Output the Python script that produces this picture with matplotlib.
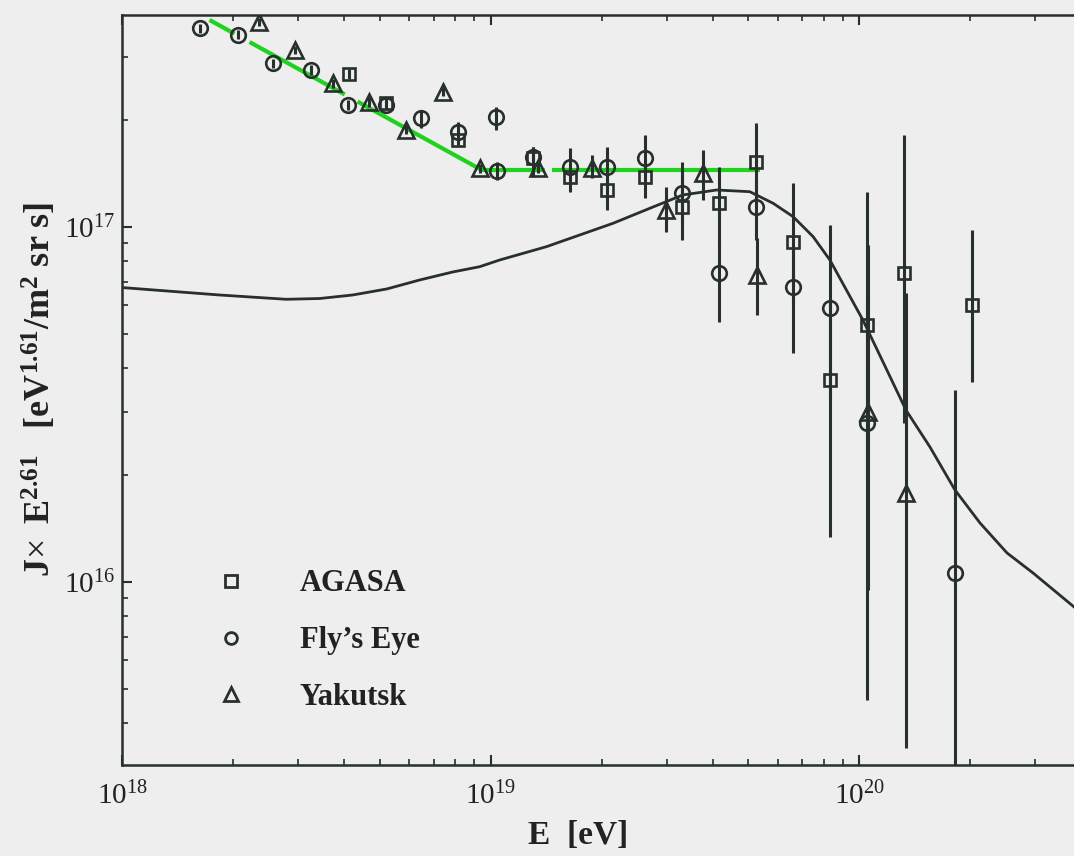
import numpy as np
import matplotlib
matplotlib.use("Agg")
import matplotlib.pyplot as plt
from matplotlib.lines import Line2D

# ---------------- data ----------------
agasa_E = [4.13e18, 5.19e18, 8.14e18, 1.302e19, 1.638e19, 2.065e19, 2.617e19, 3.298e19,
           4.156e19, 5.254e19, 6.61e19, 8.32e19, 1.046e20, 1.321e20, 2.024e20]
agasa_J = [2.69e17, 2.23e17, 1.755e17, 1.558e17, 1.383e17, 1.269e17, 1.383e17, 1.136e17,
           1.164e17, 1.524e17, 9.07e16, 3.70e16, 5.29e16, 7.39e16, 6.02e16]
agasa_lo = [2.60e17, 2.16e17, 1.70e17, 1.383e17, 1.255e17, 1.114e17, 1.205e17, 9.17e16,
            8.88e16, 1.189e17, 6.22e16, 1.336e16, 1.934e16, 2.80e16, 3.65e16]
agasa_hi = [2.78e17, 2.30e17, 1.81e17, 1.68e17, 1.492e17, 1.398e17, 1.541e17, 1.398e17,
            1.473e17, 1.96e17, 1.328e17, 6.22e16, 1.252e17, 1.813e17, 9.79e16]

fly_E = [1.623e18, 2.062e18, 2.566e18, 3.262e18, 4.10e18, 5.19e18, 6.485e18, 8.14e18,
         1.036e19, 1.038e19, 1.302e19, 1.638e19, 2.065e19, 2.617e19, 3.298e19, 4.156e19,
         5.254e19, 6.61e19, 8.32e19, 1.046e20, 1.816e20]
fly_J = [3.62e17, 3.47e17, 2.886e17, 2.763e17, 2.202e17, 2.20e17, 2.02e17, 1.852e17,
         2.04e17, 1.436e17, 1.571e17, 1.476e17, 1.476e17, 1.558e17, 1.242e17, 7.39e16,
         1.138e17, 6.78e16, 5.89e16, 2.794e16, 1.056e16]
fly_lo = [3.52e17, 3.37e17, 2.80e17, 2.68e17, 2.13e17, 2.13e17, 1.897e17, 1.78e17,
          1.873e17, 1.354e17, 1.50e17, 1.40e17, 1.311e17, 1.40e17, 1.011e17, 5.39e16,
          9.17e16, 4.41e16, 3.25e16, 4.64e15, 1.0e15]
fly_hi = [3.72e17, 3.57e17, 2.97e17, 2.85e17, 2.27e17, 2.27e17, 2.132e17, 1.976e17,
          2.178e17, 1.524e17, 1.68e17, 1.667e17, 1.68e17, 1.813e17, 1.524e17, 9.17e16,
          1.354e17, 8.60e16, 1.011e17, 6.22e16, 3.47e16]

yak_E = [2.346e18, 2.939e18, 3.733e18, 4.675e18, 5.905e18, 7.425e18, 9.335e18, 1.344e19,
         1.877e19, 2.998e19, 3.754e19, 5.27e19, 1.058e20, 1.337e20]
yak_J = [3.78e17, 3.146e17, 2.535e17, 2.25e17, 1.873e17, 2.40e17, 1.46e17, 1.46e17,
         1.46e17, 1.114e17, 1.414e17, 7.31e16, 3.012e16, 1.774e16]
yak_lo = [3.68e17, 3.06e17, 2.46e17, 2.18e17, 1.82e17, 2.33e17, 1.42e17, 1.42e17,
          1.372e17, 9.68e16, 1.189e17, 5.64e16, 9.48e15, 3.41e15]
yak_hi = [3.88e17, 3.23e17, 2.61e17, 2.32e17, 1.93e17, 2.47e17, 1.50e17, 1.50e17,
          1.592e17, 1.296e17, 1.645e17, 9.29e16, 8.88e16, 6.51e16]

# theoretical curve (log10 E, log10 J*E^2.61)
model_logE = [17.9986, 18.2646, 18.4456, 18.536, 18.6255, 18.7178, 18.8073, 18.8969,
              18.9701, 19.0244, 19.1512, 19.3319, 19.4315, 19.521, 19.6125, 19.7028,
              19.7661, 19.8203, 19.8746, 19.92, 20.0095, 20.0719, 20.1262, 20.1913,
              20.2591, 20.327, 20.4003, 20.4708, 20.5821]
model_logJ = [16.8287, 16.8076, 16.7955, 16.7977, 16.8076, 16.8245, 16.8499, 16.8724,
              16.8873, 16.9062, 16.9437, 17.0096, 17.0518, 17.0893, 17.1034, 17.0986,
              17.0659, 17.0282, 16.9718, 16.9062, 16.7372, 16.602, 16.4837, 16.3797,
              16.2586, 16.1656, 16.0811, 16.0248, 15.929]

# broken power-law fit (green): drawn pieces in log10 E
fit_logE_start = 18.2375
fit_logJ_start = 17.5823
fit_logE_break = 18.9756
fit_logJ_flat = 17.1597
fit_pieces = [(18.2375, 18.305), (18.346, 18.604), (18.639, 19.1465), (19.1655, 19.730)]

legend_labels = ["AGASA", "Fly\u2019s Eye", "Yakutsk"]

# ---------------- style ----------------
plt.rcParams['font.family'] = ['Liberation Serif', 'DejaVu Serif']
plt.rcParams['mathtext.fontset'] = 'custom'
plt.rcParams['mathtext.rm'] = 'Liberation Serif'
plt.rcParams['mathtext.it'] = 'Liberation Serif:italic'
plt.rcParams['mathtext.bf'] = 'Liberation Serif:bold'

ink = '#27302b'
bg = '#eeeeee'
txt = '#222222'

fig = plt.figure(figsize=(10.74, 8.56), dpi=100, facecolor=bg)
ax = fig.add_axes([122/1074, 91/856, 952/1074, 750/856], facecolor=bg)
ax.set_xscale('log')
ax.set_yscale('log')

# model curve
ax.plot(10**np.array(model_logE), 10**np.array(model_logJ), color=ink, lw=2.0, zorder=3)

# green fit
slope = (fit_logJ_flat - fit_logJ_start) / (fit_logE_break - fit_logE_start)
for a, b in fit_pieces:
    xs = np.linspace(a, b, 50)
    ys = np.where(xs < fit_logE_break, fit_logJ_start + slope * (xs - fit_logE_start), fit_logJ_flat)
    ax.plot(10**xs, 10**ys, color='#1ed21e', lw=3.0, solid_capstyle='butt', zorder=2)

def plot_set(E, J, lo, hi, marker, ms):
    E = np.array(E); J = np.array(J)
    yerr = np.vstack([J - np.array(lo), np.array(hi) - J])
    ax.errorbar(E, J, yerr=yerr, fmt=marker, ms=ms, mfc='none', mec=ink, mew=1.9,
                ecolor=ink, elinewidth=2.2, capsize=0, zorder=4)

plot_set(agasa_E, agasa_J, agasa_lo, agasa_hi, 's', 9)
plot_set(fly_E, fly_J, fly_lo, fly_hi, 'o', 10.5)
plot_set(yak_E, yak_J, yak_lo, yak_hi, '^', 12)

ax.set_xlim(1e18, 10**(19 + (1074 - 491) / 368.5))
ax.set_ylim(10**15.4837, 10**17.5963)

for s in ['left', 'bottom', 'top']:
    ax.spines[s].set_color(ink)
    ax.spines[s].set_linewidth(1.8)
ax.spines['right'].set_visible(False)

ax.tick_params(which='both', direction='in', top=True, right=False, color=ink,
               labelsize=21, labelcolor=txt)
ax.tick_params(which='major', length=7, width=1.5)
ax.tick_params(which='minor', length=4, width=1.2)
ax.tick_params(axis='x', which='major', pad=12)
ax.tick_params(axis='y', which='major', pad=5)
ax.set_xticks([1e18, 1e19, 1e20])
ax.set_yticks([1e16, 1e17])

ax.set_xlabel('E  [eV]', fontsize=24, fontweight='bold', color=txt)
ax.xaxis.set_label_coords(0.479, -0.074)
ax.set_ylabel(r'$\mathbf{J}\!\times\ \mathbf{E}^{\mathbf{2.61}}\ \ \ \mathbf{[eV}^{\mathbf{1.61}}\mathbf{/m}^{\mathbf{2}}\ \mathbf{sr\ s]}$',
              fontsize=26, color=txt)
ax.yaxis.set_label_coords(-0.066, 0.501)

handles = [Line2D([], [], ls='none', marker='s', ms=8, mfc='none', mec=ink, mew=2.0),
           Line2D([], [], ls='none', marker='o', ms=8.5, mfc='none', mec=ink, mew=2.0),
           Line2D([], [], ls='none', marker='^', ms=10, mfc='none', mec=ink, mew=2.0)]
leg = ax.legend(handles, legend_labels, loc='upper left', bbox_to_anchor=(0.0987, 0.2607),
                frameon=False, borderpad=0, borderaxespad=0, handlelength=1.0,
                handletextpad=1.75, labelspacing=0.91,
                prop={'family': 'Liberation Serif', 'weight': 'bold', 'size': 22})
for t in leg.get_texts():
    t.set_color(txt)

fig.savefig('out.png', dpi=100, facecolor=bg)
